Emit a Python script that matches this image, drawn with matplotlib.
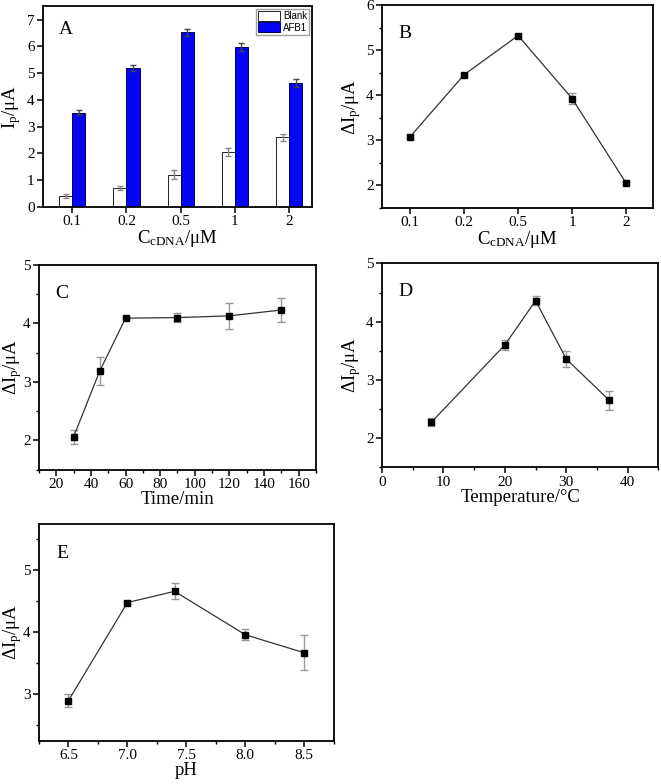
import matplotlib
matplotlib.use("Agg")
import matplotlib.pyplot as plt
import numpy as np
from matplotlib.ticker import MultipleLocator, FormatStrFormatter

plt.rcParams['font.family'] = ['Liberation Serif', 'DejaVu Serif']
plt.rcParams['mathtext.fontset'] = 'custom'
plt.rcParams['mathtext.rm'] = 'Liberation Serif'
plt.rcParams['mathtext.it'] = 'Liberation Serif:italic'

# panel A / B: cDNA concentration
conc_labels = ['0.1', '0.2', '0.5', '1', '2']
blank = [0.42, 0.72, 1.20, 2.05, 2.60]
blank_err = [0.08, 0.08, 0.17, 0.15, 0.12]
afb1 = [3.52, 5.20, 6.53, 5.98, 4.65]
afb1_err = [0.10, 0.12, 0.13, 0.15, 0.15]
dI_conc = [3.08, 4.46, 5.33, 3.93, 2.05]
dI_conc_err = [0.03, 0.03, 0.04, 0.12, 0.02]

# panel C: time
time_min = [30, 45, 60, 90, 120, 150]
dI_time = [2.06, 3.18, 4.09, 4.10, 4.13, 4.23]
dI_time_err = [0.12, 0.24, 0.02, 0.08, 0.22, 0.20]

# panel D: temperature
temp = [8, 20, 25, 30, 37]
dI_temp = [2.27, 3.60, 4.36, 3.36, 2.65]
dI_temp_err = [0.07, 0.09, 0.08, 0.13, 0.16]

# panel E: pH
ph = [6.5, 7.0, 7.4, 8.0, 8.5]
dI_ph = [2.90, 4.48, 4.66, 3.96, 3.67]
dI_ph_err = [0.10, 0.02, 0.13, 0.09, 0.28]

TICK = 11
LAB = 13.5
ylab_d = 'ΔI$_\\mathrm{p}$/μA'
xlab_c = 'C$_\\mathrm{cDNA}$/μM'


def style(ax, ylx):
    for s in ax.spines.values():
        s.set_linewidth(1.3)
    ax.tick_params(which='both', direction='out', top=False, right=False, labelsize=TICK, pad=2)
    ax.tick_params(which='major', length=4, width=1.1)
    ax.tick_params(which='minor', length=2.5, width=1.0)
    ax.yaxis.set_label_coords(ylx, 0.5)


def line_panel(ax, x, y, err):
    ax.errorbar(x, y, yerr=err, fmt='none', ecolor='#999999', elinewidth=1.0, capsize=3, capthick=1.0, zorder=2)
    ax.plot(x, y, color='#333333', lw=0.9, marker='s', ms=4.5, mfc='black', mec='black', zorder=3)


fig = plt.figure(figsize=(6.61, 7.84), dpi=100)

# A
axA = fig.add_axes([0.065, 0.736, 0.407, 0.256])
xpos = np.arange(len(conc_labels))
w = 0.24
axA.bar(xpos - w / 2, blank, w, color='white', edgecolor='black', lw=0.6, label='Blank')
axA.bar(xpos + w / 2, afb1, w, color='#0505f5', edgecolor='#000060', lw=0.7, label='AFB1')
axA.errorbar(xpos - w / 2, blank, yerr=blank_err, fmt='none', ecolor='#888888', elinewidth=1.0, capsize=2.5)
axA.errorbar(xpos + w / 2, afb1, yerr=afb1_err, fmt='none', ecolor='#444444', elinewidth=1.0, capsize=2.5)
axA.set_xticks(xpos)
axA.set_xticklabels(conc_labels)
axA.set_xlim(-0.54, 4.42)
axA.set_ylim(0, 7.5)
axA.yaxis.set_major_locator(MultipleLocator(1))
axA.set_ylabel('I$_\\mathrm{p}$/μA', fontsize=LAB)
axA.set_xlabel(xlab_c, fontsize=LAB, labelpad=0)
axA.text(0.06, 0.86, 'A', transform=axA.transAxes, fontsize=14)
axA.legend(loc='upper right', prop={'family': 'Liberation Sans', 'size': 7}, fancybox=False,
           edgecolor='#888888', handlelength=2.3, handleheight=1.2, borderpad=0.2,
           labelspacing=0.1, handletextpad=0.3, borderaxespad=0.3)
style(axA, -0.076)

# B
axB = fig.add_axes([0.578, 0.735, 0.410, 0.258])
line_panel(axB, xpos, dI_conc, dI_conc_err)
axB.set_xticks(xpos)
axB.set_xticklabels(conc_labels)
axB.set_xlim(-0.52, 4.5)
axB.set_ylim(1.5, 6)
axB.yaxis.set_major_locator(MultipleLocator(1))
axB.yaxis.set_minor_locator(MultipleLocator(0.5))
axB.set_ylabel(ylab_d, fontsize=LAB)
axB.set_xlabel(xlab_c, fontsize=LAB, labelpad=0)
axB.text(0.06, 0.84, 'B', transform=axB.transAxes, fontsize=14)
style(axB, -0.07)

# C
axC = fig.add_axes([0.059, 0.401, 0.419, 0.261])
line_panel(axC, time_min, dI_time, dI_time_err)
axC.set_xlim(10, 170)
axC.set_ylim(1.5, 5)
axC.xaxis.set_major_locator(MultipleLocator(20))
axC.xaxis.set_minor_locator(MultipleLocator(10))
axC.yaxis.set_major_locator(MultipleLocator(1))
axC.yaxis.set_minor_locator(MultipleLocator(0.5))
axC.set_ylabel(ylab_d, fontsize=LAB)
axC.set_xlabel('Time/min', fontsize=LAB, labelpad=0)
axC.text(0.06, 0.84, 'C', transform=axC.transAxes, fontsize=14)
style(axC, -0.054)

# D
axD = fig.add_axes([0.578, 0.404, 0.418, 0.260])
line_panel(axD, temp, dI_temp, dI_temp_err)
axD.set_xlim(0, 45)
axD.set_ylim(1.5, 5)
axD.xaxis.set_major_locator(MultipleLocator(10))
axD.xaxis.set_minor_locator(MultipleLocator(5))
axD.yaxis.set_major_locator(MultipleLocator(1))
axD.yaxis.set_minor_locator(MultipleLocator(0.5))
axD.set_ylabel(ylab_d, fontsize=LAB)
axD.set_xlabel('Temperature/°C', fontsize=LAB, labelpad=0)
axD.text(0.06, 0.84, 'D', transform=axD.transAxes, fontsize=14)
style(axD, -0.069)

# E
axE = fig.add_axes([0.059, 0.055, 0.446, 0.277])
line_panel(axE, ph, dI_ph, dI_ph_err)
axE.set_xlim(6.25, 8.75)
axE.set_ylim(2.25, 5.75)
axE.xaxis.set_major_locator(MultipleLocator(0.5))
axE.xaxis.set_minor_locator(MultipleLocator(0.25))
axE.xaxis.set_major_formatter(FormatStrFormatter('%.1f'))
axE.yaxis.set_major_locator(MultipleLocator(1))
axE.yaxis.set_minor_locator(MultipleLocator(0.5))
axE.set_ylabel(ylab_d, fontsize=LAB)
axE.set_xlabel('pH', fontsize=LAB, labelpad=0)
axE.text(0.06, 0.84, 'E', transform=axE.transAxes, fontsize=14)
style(axE, -0.051)

plt.savefig('out.png', dpi=100)
